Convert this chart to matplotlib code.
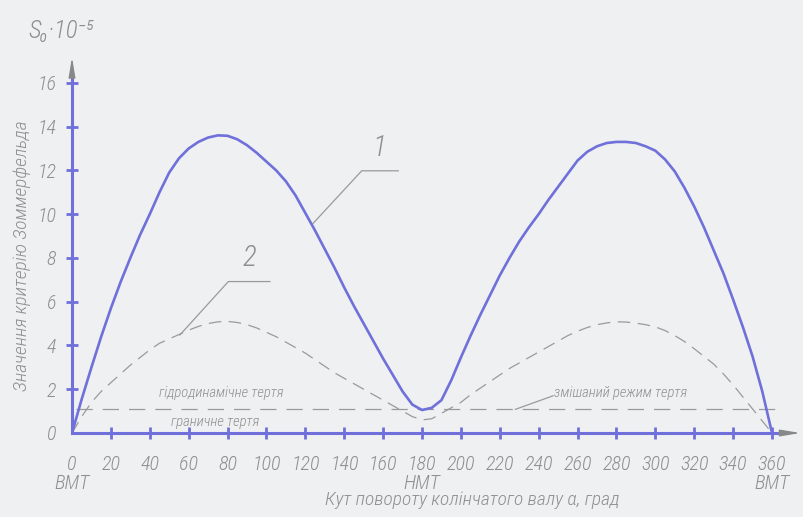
import matplotlib
matplotlib.use("Agg")
import matplotlib.pyplot as plt
from matplotlib import font_manager

# crank angle, deg (every 5 deg)
angles = list(range(0, 361, 5))
# curve 1 - Sommerfeld number
s_curve1 = [0, 1.55, 3.0, 4.4, 5.7, 6.9, 8.0, 9.05, 10.0, 11.0, 11.9, 12.55, 13.0, 13.3,
            13.5, 13.6, 13.58, 13.42, 13.15, 12.8, 12.4, 12.0, 11.5, 10.85, 10.05, 9.25,
            8.4, 7.55, 6.65, 5.8, 5.0, 4.2, 3.4, 2.65, 1.9, 1.3, 1.05, 1.15, 1.5, 2.4,
            3.45, 4.45, 5.4, 6.3, 7.2, 8.0, 8.75, 9.4, 10.0, 10.65, 11.25, 11.85, 12.45,
            12.85, 13.1, 13.25, 13.3, 13.3, 13.25, 13.1, 12.9, 12.5, 11.95, 11.2, 10.35,
            9.4, 8.35, 7.3, 6.1, 4.85, 3.5, 1.9, 0]
# curve 2 - dashed
s_curve2 = [0, 0.75, 1.4, 1.9, 2.3, 2.7, 3.1, 3.45, 3.8, 4.1, 4.3, 4.5, 4.7, 4.87, 5.0,
            5.08, 5.1, 5.05, 4.95, 4.8, 4.6, 4.4, 4.15, 3.9, 3.65, 3.35, 3.05, 2.75, 2.5,
            2.25, 2.0, 1.75, 1.5, 1.25, 1.0, 0.75, 0.6, 0.65, 0.9, 1.15, 1.4, 1.75, 2.05,
            2.35, 2.65, 2.95, 3.2, 3.45, 3.7, 3.95, 4.2, 4.45, 4.65, 4.82, 4.95, 5.03,
            5.08, 5.07, 5.02, 4.95, 4.85, 4.68, 4.45, 4.18, 3.85, 3.5, 3.15, 2.7, 2.2,
            1.65, 1.1, 0.55, 0]
boundary_level = 1.08
boundary_span = [2, 365]

x_ticks = list(range(0, 361, 20))
x_labels = [str(v) for v in x_ticks]
x_labels[0] = "0\nВМТ"
x_labels[9] = "180\nНМТ"
x_labels[18] = "360\nВМТ"
y_ticks = list(range(0, 17, 2))

# pick a narrow font if there is one
names = {f.name for f in font_manager.fontManager.ttflist}
font = "DejaVu Sans"
for cand in ["Liberation Sans Narrow", "Roboto Condensed", "DejaVu Sans Condensed", "Roboto"]:
    if cand in names:
        font = cand
        break
plt.rcParams["font.family"] = [font, "DejaVu Sans"]
plt.rcParams["font.style"] = "italic"
plt.rcParams["font.weight"] = "light"

blue = "#6f70d9"
grey = "#8f8f8f"
bg = "#eef0f2"

fig = plt.figure(figsize=(8.04, 5.17), dpi=100, facecolor=bg)
ax = fig.add_axes([72 / 804, 84 / 517, 728 / 804, 383 / 517])
ax.set_xlim(0, 374.4)
ax.set_ylim(0, 17.5)
ax.patch.set_alpha(0)
for s in ax.spines.values():
    s.set_visible(False)

# axes with arrows
ax.plot([0, 367], [0, 0], color=blue, lw=2.2, clip_on=False, zorder=3)
ax.plot([0, 0], [0, 16.4], color=blue, lw=2.2, clip_on=False, zorder=3)
ax.annotate("", xy=(376, 0), xytext=(366, 0),
            arrowprops=dict(arrowstyle="-|>,head_length=1.2,head_width=0.2", color="#888888", lw=1),
            annotation_clip=False)
ax.annotate("", xy=(0, 17.3), xytext=(0, 16.3),
            arrowprops=dict(arrowstyle="-|>,head_length=1.2,head_width=0.2", color="#888888", lw=1),
            annotation_clip=False)

ax.set_xticks(x_ticks)
ax.set_xticklabels(x_labels, fontsize=14.5, color=grey, linespacing=1.0)
ax.set_yticks(y_ticks)
ax.set_yticklabels([str(v) for v in y_ticks], fontsize=14.5, color=grey)
ax.tick_params(axis="x", direction="inout", length=9, width=2, color=blue, pad=11)
ax.tick_params(axis="y", direction="inout", length=9, width=2, color=blue, pad=7)
ax.xaxis.get_major_ticks()[0].tick1line.set_visible(False)
ax.yaxis.get_major_ticks()[0].tick1line.set_visible(False)

# curves
ax.plot(angles, s_curve1, color=blue, lw=1.9, zorder=4, solid_joinstyle="round")
ax.plot(angles, s_curve2, color="#9a9a9a", lw=0.9, dashes=(10, 6))
ax.plot(boundary_span, [boundary_level, boundary_level], color="#9a9a9a", lw=0.9,
        dashes=(13, 8), clip_on=False)

# leaders and labels
lead = dict(color="#9a9a9a", lw=0.9)
ax.plot([124, 149, 167.8], [9.58, 11.98, 11.98], **lead)
ax.text(158, 12.4, "1", fontsize=21, color=grey, ha="center", va="bottom")
ax.plot([55.5, 80.4, 101.8], [4.48, 6.92, 6.92], **lead)
ax.text(91, 7.35, "2", fontsize=21, color=grey, ha="center", va="bottom")
ax.plot([228, 247.4], [1.08, 1.7], **lead)

ax.text(77, 1.83, "гідродинамічне тертя", fontsize=10.5, color=grey, ha="center", va="center")
ax.text(73.5, 0.52, "граничне тертя", fontsize=10.5, color=grey, ha="center", va="center")
ax.text(282, 1.83, "змішаний режим тертя", fontsize=10.5, color=grey, ha="center", va="center")

fig.text(22 / 804, 1 - 256 / 517, "Значення критерію Зоммерфельда", rotation=90,
         fontsize=14, color=grey, ha="center", va="center")
fig.text(472 / 804, 1 - 500 / 517, "Кут повороту колінчатого валу α, град",
         fontsize=14, color=grey, ha="center", va="center")
fig.text(28 / 804, 1 - 31 / 517, "S₀·10⁻⁵", fontsize=18, color=grey, ha="left", va="center")

fig.savefig("out.png", dpi=100, facecolor=bg)
plt.close(fig)
